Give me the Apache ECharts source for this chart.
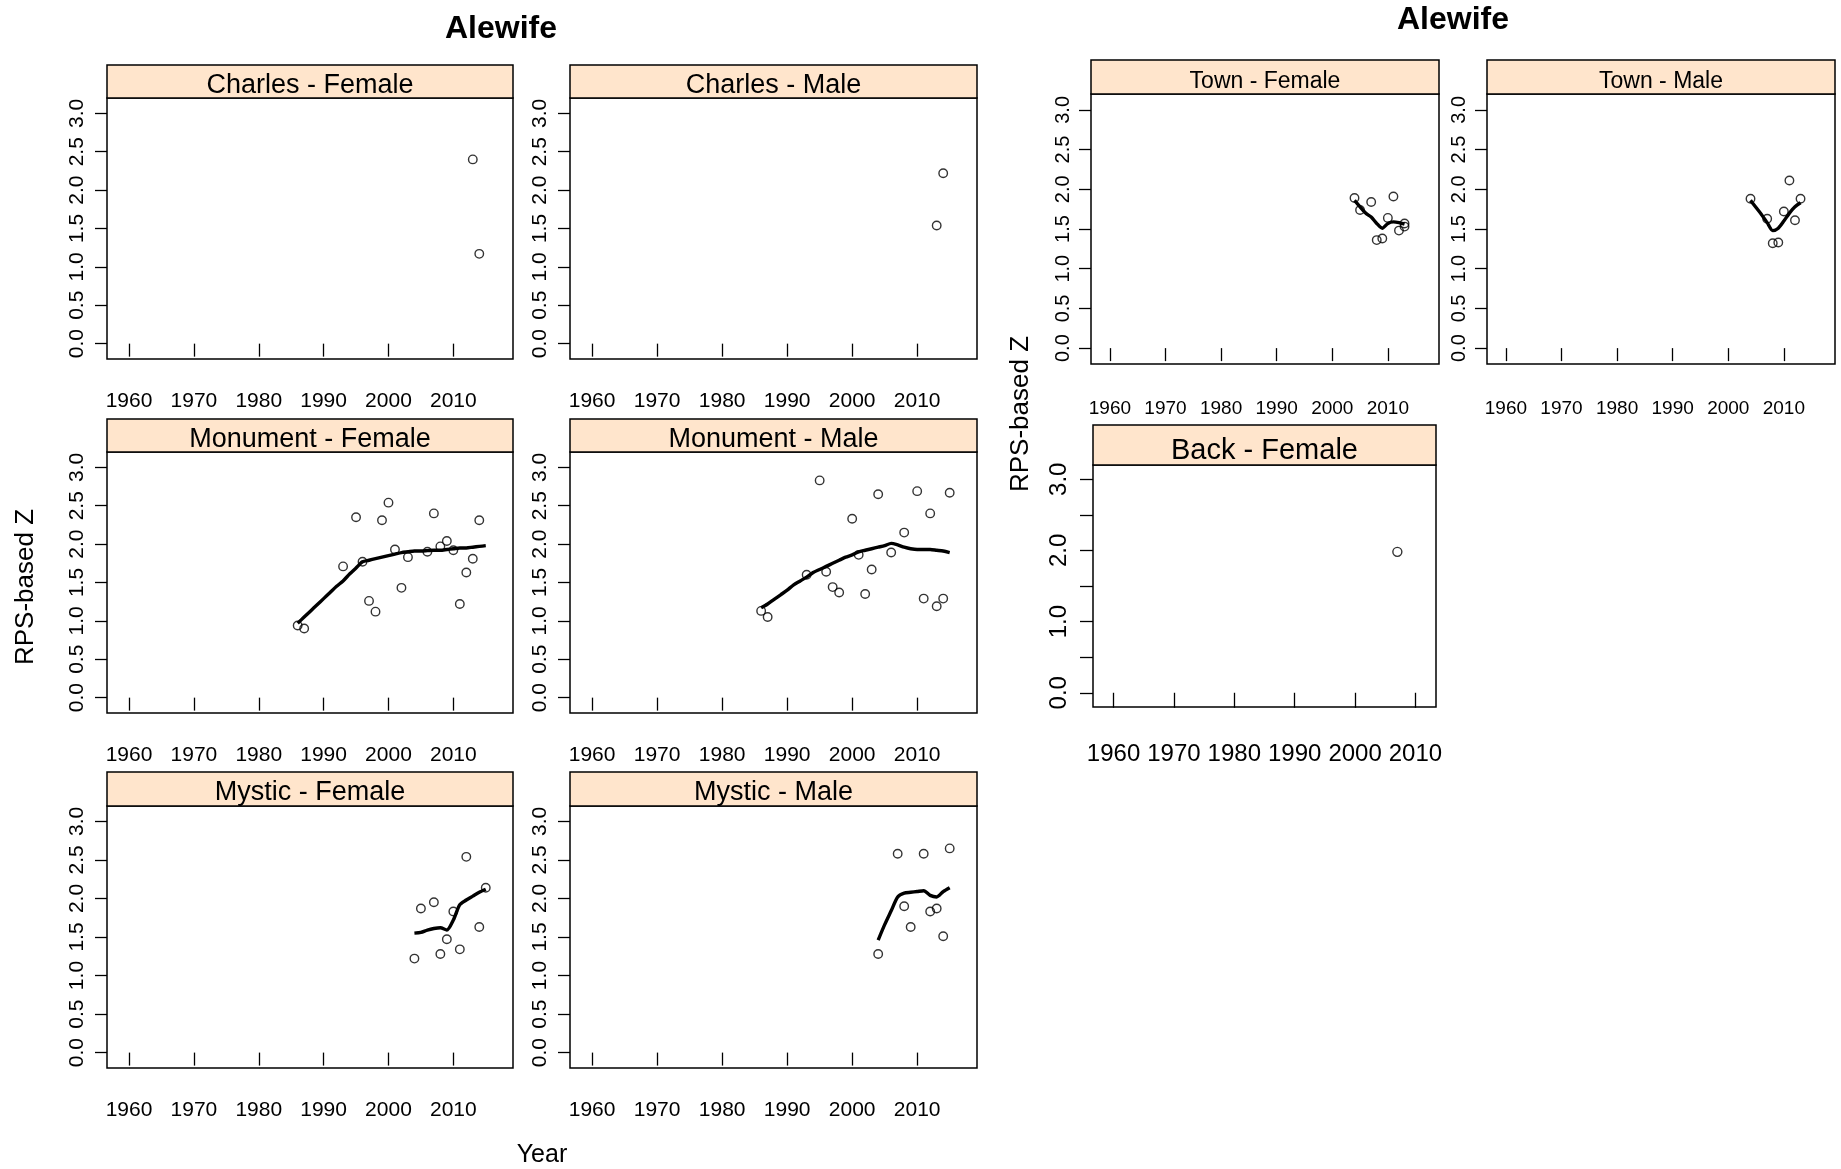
<!DOCTYPE html>
<html><head><meta charset="utf-8">
<script src="https://cdn.jsdelivr.net/npm/echarts@6/dist/echarts.min.js"></script>
<style>html,body{margin:0;padding:0;background:#fff}#c{width:1841px;height:1169px}</style>
</head><body><div id="c"></div>
<script>
// ---------- tick values ----------
const xTickYears = [1960, 1970, 1980, 1990, 2000, 2010];
const zTicks = [0, 0.5, 1, 1.5, 2, 2.5, 3];
const backZLabels = [0, 1, 2, 3];

// ---------- observed RPS-based Z ----------
const charlesFemaleYear = [2013, 2014];
const charlesFemaleZ = [2.40, 1.17];
const charlesMaleYear = [2013, 2014];
const charlesMaleZ = [1.54, 2.22];

const monumentFemaleYear = [1986,1987,1993,1995,1996,1997,1998,1999,2000,2001,2002,2003,2006,2007,2008,2009,2010,2011,2012,2013,2014];
const monumentFemaleZ = [0.94,0.90,1.71,2.35,1.77,1.26,1.12,2.31,2.54,1.93,1.43,1.83,1.90,2.40,1.97,2.04,1.92,1.22,1.63,1.81,2.31];
const monumentMaleYear = [1986,1987,1993,1995,1996,1997,1998,2000,2001,2002,2003,2004,2006,2008,2010,2011,2012,2013,2014,2015];
const monumentMaleZ = [1.13,1.05,1.60,2.83,1.64,1.44,1.37,2.33,1.86,1.35,1.67,2.65,1.89,2.15,2.69,1.29,2.40,1.19,1.29,2.67];

const mysticFemaleYear = [2004,2005,2007,2008,2009,2010,2011,2012,2014,2015];
const mysticFemaleZ = [1.22,1.87,1.95,1.28,1.47,1.83,1.34,2.54,1.63,2.14];
const mysticMaleYear = [2004,2007,2008,2009,2011,2012,2013,2014,2015];
const mysticMaleZ = [1.28,2.58,1.90,1.63,2.58,1.83,1.87,1.51,2.65];

const townFemaleYear = [2004,2005,2007,2008,2009,2010,2011,2012,2013,2013];
const townFemaleZ = [1.89,1.74,1.84,1.36,1.38,1.64,1.91,1.48,1.57,1.53];
const townMaleYear = [2004,2007,2008,2009,2010,2011,2012,2013];
const townMaleZ = [1.88,1.63,1.32,1.33,1.72,2.11,1.61,1.88];

const backFemaleYear = [2007];
const backFemaleZ = [1.98];

// ---------- smoothed curves ----------
const monumentFemaleFitYear = [1986,1987,1988,1989,1990,1991,1992,1993,1994,1995,1996,1997,1998,1999,2000,2001,2002,2003,2004,2005,2006,2007,2008,2009,2010,2011,2012,2013,2014,2015];
const monumentFemaleFitZ = [0.97,1.05,1.13,1.21,1.29,1.37,1.45,1.52,1.61,1.69,1.77,1.79,1.81,1.83,1.85,1.87,1.89,1.90,1.91,1.91,1.915,1.92,1.92,1.93,1.94,1.95,1.95,1.96,1.97,1.98];
const monumentMaleFitYear = [1986,1987,1988,1989,1990,1991,1992,1993,1994,1995,1996,1997,1998,1999,2000,2001,2002,2003,2004,2005,2006,2007,2008,2009,2010,2011,2012,2013,2014,2015];
const monumentMaleFitZ = [1.17,1.22,1.28,1.34,1.40,1.47,1.52,1.57,1.63,1.67,1.71,1.75,1.79,1.83,1.86,1.90,1.92,1.94,1.96,1.98,2.01,1.99,1.96,1.94,1.93,1.93,1.93,1.92,1.91,1.89];
const mysticFemaleFitYear = [2004,2005,2006,2007,2008,2009,2010,2011,2012,2013,2014,2015];
const mysticFemaleFitZ = [1.55,1.56,1.59,1.61,1.62,1.59,1.72,1.92,1.98,2.03,2.08,2.12];
const mysticMaleFitYear = [2004,2005,2006,2007,2008,2009,2010,2011,2012,2013,2014,2015];
const mysticMaleFitZ = [1.46,1.66,1.84,2.02,2.07,2.08,2.09,2.10,2.04,2.02,2.09,2.14];
const townFemaleFitYear = [2004,2005,2006,2007,2008,2009,2010,2011,2012,2013];
const townFemaleFitZ = [1.86,1.78,1.70,1.65,1.57,1.51,1.57,1.59,1.58,1.56];
const townMaleFitYear = [2004,2005,2006,2007,2008,2009,2010,2011,2012,2013];
const townMaleFitZ = [1.86,1.77,1.68,1.58,1.48,1.51,1.60,1.70,1.78,1.83];

// ---------- panels ----------
const panels = [
  {name:'Charles - Female', year:charlesFemaleYear, z:charlesFemaleZ},
  {name:'Charles - Male', year:charlesMaleYear, z:charlesMaleZ},
  {name:'Monument - Female', year:monumentFemaleYear, z:monumentFemaleZ, fitYear:monumentFemaleFitYear, fitZ:monumentFemaleFitZ},
  {name:'Monument - Male', year:monumentMaleYear, z:monumentMaleZ, fitYear:monumentMaleFitYear, fitZ:monumentMaleFitZ},
  {name:'Mystic - Female', year:mysticFemaleYear, z:mysticFemaleZ, fitYear:mysticFemaleFitYear, fitZ:mysticFemaleFitZ},
  {name:'Mystic - Male', year:mysticMaleYear, z:mysticMaleZ, fitYear:mysticMaleFitYear, fitZ:mysticMaleFitZ},
  {name:'Town - Female', year:townFemaleYear, z:townFemaleZ, fitYear:townFemaleFitYear, fitZ:townFemaleFitZ},
  {name:'Town - Male', year:townMaleYear, z:townMaleZ, fitYear:townMaleFitYear, fitZ:townMaleFitZ},
  {name:'Back - Female', year:backFemaleYear, z:backFemaleZ}
];

// ---------- layout / style ----------
const REG = "'Liberation Sans', Arial, sans-serif";
const leftStyle = {xMin:1956.6, xMax:2019.2, xFont:21, xMargin:32, xTick:13,
  yFont:21, yMargin:19, yTick:12, yLabels:zTicks, stripFont:27, stripDy:4, sym:8.5};
const rightStyle = {xMin:1956.6, xMax:2019.2, xFont:19, xMargin:35, xTick:13,
  yFont:20, yMargin:18, yTick:12, yLabels:zTicks, stripFont:23, stripDy:5, sym:8.5};
const backStyle = {xMin:1956.6, xMax:2013.4, xFont:24, xMargin:35, xTick:15,
  yFont:24, yMargin:22, yTick:13, yLabels:backZLabels, stripFont:29, stripDy:6, sym:9};
const layout = [
  {left:107, top:98,  width:406, height:261, strip:33, s:leftStyle},
  {left:570, top:98,  width:407, height:261, strip:33, s:leftStyle},
  {left:107, top:452, width:406, height:261, strip:33, s:leftStyle},
  {left:570, top:452, width:407, height:261, strip:33, s:leftStyle},
  {left:107, top:806, width:406, height:262, strip:34, s:leftStyle},
  {left:570, top:806, width:407, height:262, strip:34, s:leftStyle},
  {left:1091, top:94, width:348, height:270, strip:34, s:rightStyle},
  {left:1487, top:94, width:348, height:270, strip:34, s:rightStyle},
  {left:1093, top:465, width:343, height:242, strip:40, s:backStyle}
];

const zip = (a, b) => a.map((v, i) => [v, b[i]]);
const grids = [], xAxes = [], yAxes = [], series = [], graphics = [];

panels.forEach((p, i) => {
  const L = layout[i], S = L.s;
  grids.push({left:L.left, top:L.top, width:L.width, height:L.height, show:true,
    borderColor:'#000', borderWidth:1.5, backgroundColor:'rgba(0,0,0,0)'});
  xAxes.push({type:'value', gridIndex:i, min:S.xMin, max:S.xMax,
    axisLine:{show:false}, splitLine:{show:false},
    axisTick:{show:true, customValues:xTickYears, length:S.xTick, lineStyle:{color:'#000', width:1.3}},
    axisLabel:{customValues:xTickYears, margin:S.xMargin, fontSize:S.xFont, fontFamily:REG, color:'#000',
      hideOverlap:false, showMinLabel:true, showMaxLabel:true, formatter:v => String(v)}});
  yAxes.push({type:'value', gridIndex:i, min:-0.2, max:3.2,
    axisLine:{show:false}, splitLine:{show:false},
    axisTick:{show:true, customValues:zTicks, length:S.yTick, lineStyle:{color:'#000', width:1.3}},
    axisLabel:{customValues:S.yLabels, rotate:90, margin:S.yMargin, fontSize:S.yFont, fontFamily:REG, color:'#000',
      formatter:v => Number(v).toFixed(1)}});
  series.push({type:'scatter', xAxisIndex:i, yAxisIndex:i, data:zip(p.year, p.z), symbol:'circle',
    symbolSize:S.sym, itemStyle:{color:'rgba(0,0,0,0)', borderColor:'#000', borderWidth:1.4}, silent:true, z:2});
  if (p.fitYear) {
    series.push({type:'line', xAxisIndex:i, yAxisIndex:i, data:zip(p.fitYear, p.fitZ), symbol:'none',
      showSymbol:false, smooth:0.25, lineStyle:{color:'#000', width:3.4}, silent:true, z:3});
  }
  graphics.push({type:'rect', shape:{x:L.left, y:L.top - L.strip, width:L.width, height:L.strip},
    style:{fill:'#FFE5CC', stroke:'#000', lineWidth:1.5}, z:10});
  graphics.push({type:'text', x:L.left + L.width / 2, y:L.top - L.strip / 2 + S.stripDy,
    style:{text:p.name, font:S.stripFont + 'px ' + REG, fill:'#000', textAlign:'center', textVerticalAlign:'middle'}, z:11});
});

// titles and axis names
graphics.push({type:'text', x:501, y:29, style:{text:'Alewife', font:'bold 32px ' + REG, fill:'#000', textAlign:'center', textVerticalAlign:'middle'}});
graphics.push({type:'text', x:1453, y:20, style:{text:'Alewife', font:'bold 32px ' + REG, fill:'#000', textAlign:'center', textVerticalAlign:'middle'}});
graphics.push({type:'text', x:26, y:587, rotation:Math.PI / 2, style:{text:'RPS-based Z', font:'26px ' + REG, fill:'#000', textAlign:'center', textVerticalAlign:'middle'}});
graphics.push({type:'text', x:1021, y:414, rotation:Math.PI / 2, style:{text:'RPS-based Z', font:'26px ' + REG, fill:'#000', textAlign:'center', textVerticalAlign:'middle'}});
graphics.push({type:'text', x:542, y:1155, style:{text:'Year', font:'25px ' + REG, fill:'#000', textAlign:'center', textVerticalAlign:'middle'}});

const chart = echarts.init(document.getElementById('c'), null, {renderer:'canvas'});
chart.setOption({
  backgroundColor:'#fff', animation:false,
  grid:grids, xAxis:xAxes, yAxis:yAxes, series:series, graphic:graphics
});
</script></body></html>
